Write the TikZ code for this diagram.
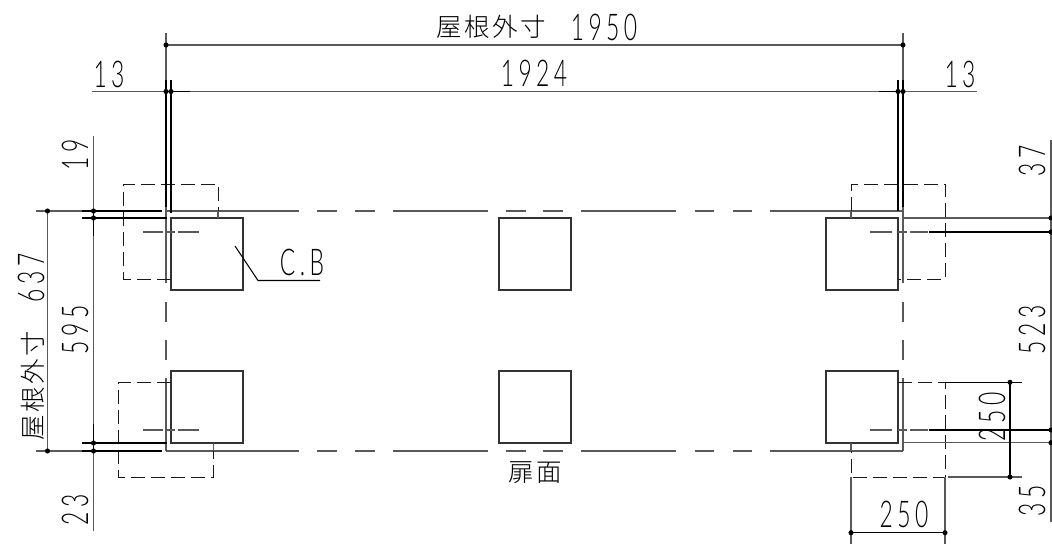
\documentclass[tikz,border=0pt]{standalone}
\usepackage{fontspec}
\setmainfont{Lato Light}[LetterSpace=12,FakeStretch=0.62]
\newfontfamily\cjk{Noto Sans CJK JP Light}[LetterSpace=10]
\tikzset{
  thinl/.style={line width=0.6pt,draw=black!65},
  thickl/.style={line width=0.62pt,draw=black},
  box/.style={line width=0.8pt,draw=black!80},
  dashl/.style={line width=0.5pt,draw=black!90,dash pattern=on 8pt off 3.4pt},
  dot/.style={circle,fill=black,inner sep=0pt,minimum size=2.9pt},
  dim/.style={inner sep=0pt,font=\fontsize{21}{21}\selectfont},
  dimk/.style={inner sep=0pt,font=\cjk\fontsize{14.5}{15}\selectfont},
  sq/.style={box,draw,minimum width=40.8pt,minimum height=40.8pt,inner sep=0pt},
}
\begin{document}
\begin{tikzpicture}[x=0.02cm,y=-0.02cm]
\useasboundingbox (0,0) rectangle (1052,549);
% ---- solid boxes
\node[sq] (b1) at (207,254) {};
\node[sq] (b2) at (535,254) {};
\node[sq] (b3) at (862,254) {};
\node[sq] (b4) at (207,407) {};
\node[sq] (b5) at (535,407) {};
\node[sq] (b6) at (862,407) {};
% ---- outline, long-dash pattern
\foreach \y in {211,451}{
  \foreach \a/\b in {166/299,317/337,355/375,393/488,506/526,543/563,581/676,695/714,733/752,770/903}
    \draw[thinl] (\a,\y) -- (\b,\y);
}
\foreach \x in {166,903}{
  \foreach \a/\b in {302/322,340/360,378/451}
    \draw[thinl] (\x,\a) -- (\x,\b);
  \draw[thinl] (\x,33) -- (\x,283);
}
% ---- dashed plinths
\draw[dashl] (171,279) -- (123.5,279) -- (123.5,184) -- (218,184) -- (218,211);
\draw[thinl] (218,211) -- (218,218);
\draw[dashl] (851,211) -- (851,184) -- (945,184) -- (945,279) -- (898,279);
\draw[thinl] (851,211) -- (851,218);
\draw[dashl] (171,382) -- (118.5,382) -- (118.5,477) -- (213.5,477) -- (213.5,451);
\draw[thinl] (213.5,443) -- (213.5,451);
\draw[dashl] (898,382) -- (945,382) -- (945,477) -- (851,477) -- (851,451);
\draw[thinl] (851,443) -- (851,451);
% ---- centre lines
\foreach \y in {232,430}{
  \foreach \a/\b in {143/163,167/175,178/199}
    \draw[thinl] (\a,\y) -- (\b,\y);
  \foreach \a/\b in {870/892,898/907,910/928}
    \draw[thinl] (\a,\y) -- (\b,\y);
  \draw[thickl] (929,\y) -- (1051,\y);
}
\draw[thinl] (903,218) -- (1051,218);
\draw[thinl] (903,442.7) -- (1051,442.7);
% ---- top dimensions
\draw[thinl] (166,45) -- (903,45);
\draw[thinl] (92,91.5) -- (977,91.5);
\draw[thickl] (166,91.5) -- (190,91.5);
\draw[thickl] (879,91.5) -- (903,91.5);
\draw[thickl] (166,80) -- (166,207);
\draw[thickl] (171,80) -- (171,213);
\draw[thickl] (898,80) -- (898,211);
\draw[thickl] (903,80) -- (903,207);
% ---- left dimensions
\draw[thinl] (36,211) -- (82,211);
\draw[thinl] (36,451) -- (82,451);
\draw[thickl] (82,211) -- (162,211);
\draw[thickl] (82,218) -- (167,218);
\draw[thickl] (82,443) -- (167,443);
\draw[thickl] (82,451) -- (162,451);
\draw[thinl] (93.5,136) -- (93.5,530.7);
\draw[thickl] (93.5,211) -- (93.5,236);
\draw[thickl] (93.5,424) -- (93.5,451);
\draw[thinl] (47.5,211) -- (47.5,451);
% ---- right dimensions
\draw[thinl] (1051,140) -- (1051,522);
\draw[thickl] (945,382.3) -- (1022,382.3);
\draw[thinl] (948,477) -- (1022,477);
\draw[thickl] (1010,382.3) -- (1010,477);
\draw[thinl] (851,477) -- (851,544);
\draw[thinl] (945,477) -- (945,544);
\draw[thickl] (851,532.7) -- (945,532.7);
% ---- leader
\coordinate (l1) at (235,246);
\coordinate (l2) at (258,280.5);
\coordinate (l3) at (320,280.5);
\draw[thinl,draw=black] (l1) -- (l2) -- (l3);
% ---- dots
\foreach \q/\r in {166/45,903/45,166/91.5,171/91.5,898/91.5,903/91.5,
  93.5/211,93.5/218,93.5/443,93.5/451,47.5/211,47.5/451,
  1051/218,1051/232,1051/430,1051/442.7,1010/382.3,1010/477,851/532.7,945/532.7}
  \node[dot] at (\q,\r) {};
% ---- texts
\node[dimk] (t1) at (491,27) {屋根外寸};
\node[dim] (t2) at (604,27) {1950};
\node[dim] (t3) at (534,73) {1924};
\node[dim] (t4) at (109,74) {13};
\node[dim] (t5) at (960,74) {13};
\node[dim,rotate=90] (t6) at (75,155) {19};
\node[dim,rotate=90] (t7) at (31,278) {637};
\node[dimk,rotate=90] (t8) at (33,386) {屋根外寸};
\node[dim,rotate=90] (t9) at (75,330) {595};
\node[dim,rotate=90] (t10) at (75,510) {23};
\node[dim,rotate=90] (t11) at (1032,161) {37};
\node[dim,rotate=90] (t12) at (1032,330) {523};
\node[dim,rotate=90] (t13) at (1032,501) {35};
\node[dim,rotate=90] (t14) at (992,417) {250};
\node[dim] (t15) at (904,514) {250};
\node[dim] (t16) at (302,262) {C.B};
\node[dimk] (t17) at (535,473) {扉面};
\end{tikzpicture}
\end{document}
